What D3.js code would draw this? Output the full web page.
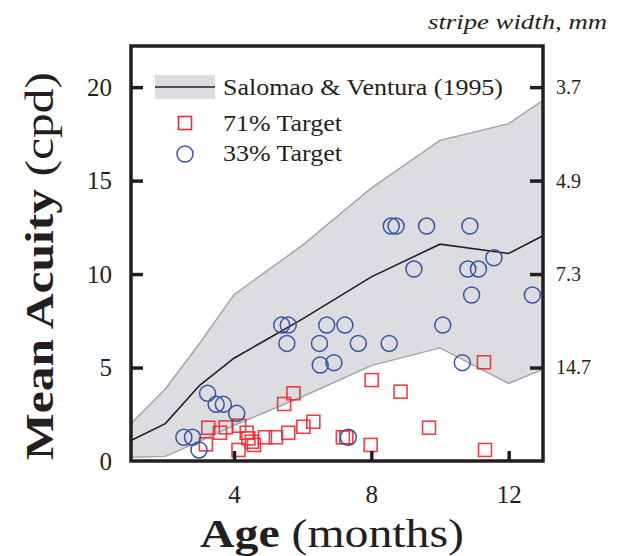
<!DOCTYPE html>
<html>
<head>
<meta charset="utf-8">
<script src="https://cdn.jsdelivr.net/npm/d3@7"></script>
<style>
  body { margin: 0; background: #fff; }
  svg text { font-family: "Liberation Serif", "DejaVu Serif", serif; fill: #231f20; }
</style>
</head>
<body>
<div class="chart"></div>
<script>
var svgWidth = 618;
var svgHeight = 556;

var margin = { top: 46, right: 75, bottom: 95, left: 131 };
var width = svgWidth - margin.left - margin.right;
var height = svgHeight - margin.top - margin.bottom;

var serif = "Liberation Serif";

// ---- data ----
var bandMonths = [1, 2, 3, 4, 6, 8, 10, 12, 13];
var bandLow  = [0.2, 0.25, 1.05, 1.9, 3.45, 5.1, 6.05, 4.15, 4.9];
var bandMean = [1.1, 2.0, 4.05, 5.5, 7.6, 9.85, 11.6, 11.1, 12.05];
var bandHigh = [2.0, 3.85, 6.3, 8.9, 11.55, 14.6, 17.15, 18.05, 19.3];

var age71 = [11.28, 8.01, 8.85, 5.73, 5.46, 6.31, 6.02, 5.58, 5.22, 4.90, 3.25, 3.59, 3.76,
  3.18, 4.15, 4.37, 4.42, 4.52, 4.58, 4.13, 7.17, 7.27, 7.98, 9.68, 11.31];
var acuity71 = [5.28, 4.33, 3.71, 3.62, 3.05, 2.10, 1.83, 1.51, 1.27, 1.27, 1.78, 1.51, 1.80,
  0.89, 1.89, 1.51, 1.21, 1.03, 0.86, 0.59, 1.27, 1.27, 0.86, 1.78, 0.59];

var age33 = [8.58, 8.72, 9.61, 10.87, 9.24, 10.81, 11.12, 11.57, 10.92, 12.69, 5.39, 5.58, 6.70,
  7.23, 10.08, 5.54, 6.49, 7.62, 8.52, 6.51, 6.91, 10.65, 3.23, 3.48, 3.69, 4.08, 2.54, 2.79, 2.98, 7.33];
var acuity33 = [12.57, 12.57, 12.57, 12.57, 10.27, 10.27, 10.27, 10.87, 8.88, 8.88, 7.27, 7.27, 7.27,
  7.27, 7.27, 6.29, 6.29, 6.29, 6.29, 5.13, 5.26, 5.26, 3.62, 3.03, 3.03, 2.55, 1.27, 1.27, 0.59, 1.27];

var ageTicks = [4, 8, 12];
var acuityTicks = [0, 5, 10, 15, 20];
var stripeTicks = [20, 15, 10, 5];
var stripeLabels = ["3.7", "4.9", "7.3", "14.7"];

var legendLabels = ["Salomao & Ventura (1995)", "71% Target", "33% Target"];

var ink = "#231f20";
var red = "#ec2a33";
var blue = "#3a54a5";

var svg = d3.select(".chart")
  .append("svg")
  .attr("width", svgWidth)
  .attr("height", svgHeight)
  .attr("font-family", serif);

var chartGroup = svg.append("g")
  .attr("transform", `translate(${margin.left}, ${margin.top})`);

var x = d3.scaleLinear().domain([1, 13]).range([0, width]);
var y = d3.scaleLinear().domain([0, 22.2]).range([height, 0]);

var band = bandMonths.map((m, i) => ({ m: m, lo: bandLow[i], mean: bandMean[i], hi: bandHigh[i] }));

// ---- shaded band ----
chartGroup.append("path")
  .datum(band)
  .attr("fill", "#dcdde0")
  .attr("d", d3.area().x(d => x(d.m)).y0(d => y(d.lo)).y1(d => y(d.hi)));

["lo", "hi"].forEach(k => {
  chartGroup.append("path")
    .datum(band)
    .attr("fill", "none")
    .attr("stroke", "#a3a3a5")
    .attr("stroke-width", 1.4)
    .attr("d", d3.line().x(d => x(d.m)).y(d => y(d[k])));
});

chartGroup.append("path")
  .datum(band)
  .attr("fill", "none")
  .attr("stroke", ink)
  .attr("stroke-width", 1.6)
  .attr("d", d3.line().x(d => x(d.m)).y(d => y(d.mean)));

// ---- points ----
var sq = 13;
chartGroup.append("g").selectAll("rect")
  .data(age71.map((a, i) => [a, acuity71[i]]))
  .enter()
  .append("rect")
  .attr("x", d => x(d[0]) - sq / 2)
  .attr("y", d => y(d[1]) - sq / 2)
  .attr("width", sq)
  .attr("height", sq)
  .attr("fill", "none")
  .attr("stroke", red)
  .attr("stroke-opacity", 0.9)
  .attr("stroke-width", 1.6);

chartGroup.append("g").selectAll("circle")
  .data(age33.map((a, i) => [a, acuity33[i]]))
  .enter()
  .append("circle")
  .attr("cx", d => x(d[0]))
  .attr("cy", d => y(d[1]))
  .attr("r", 8)
  .attr("fill", "none")
  .attr("stroke", blue)
  .attr("stroke-width", 1.5);

// ---- axes ----
function styleAxis(g, size) {
  g.attr("font-family", serif);
  g.select(".domain").remove();
  g.selectAll(".tick line").attr("stroke", ink).attr("stroke-width", 3.5);
  g.selectAll(".tick text").attr("font-size", size).attr("font-family", serif).attr("fill", ink);
}

var leftAxis = chartGroup.append("g")
  .call(d3.axisLeft(y).tickValues(acuityTicks).tickSize(-12).tickPadding(19));
styleAxis(leftAxis, 25);
leftAxis.selectAll(".tick line").filter(d => d === 0).remove();

var bottomAxis = chartGroup.append("g")
  .attr("transform", `translate(0, ${height})`)
  .call(d3.axisBottom(x).tickValues(ageTicks).tickSize(-10).tickPadding(24));
styleAxis(bottomAxis, 25);

var rightAxis = chartGroup.append("g")
  .attr("transform", `translate(${width}, 0)`)
  .call(d3.axisRight(y).tickValues(stripeTicks).tickSize(-13).tickPadding(13)
    .tickFormat((d, i) => stripeLabels[i]));
styleAxis(rightAxis, 20);

// frame
chartGroup.append("rect")
  .attr("width", width)
  .attr("height", height)
  .attr("fill", "none")
  .attr("stroke", ink)
  .attr("stroke-width", 3.5);

// ---- legend ----
var legend = chartGroup.append("g").attr("transform", "translate(24, 29)");
legend.append("rect")
  .attr("x", 0).attr("y", 0).attr("width", 60).attr("height", 24)
  .attr("fill", "#dcdde0");
legend.append("line")
  .attr("x1", 0).attr("x2", 60).attr("y1", 12).attr("y2", 12)
  .attr("stroke", ink).attr("stroke-width", 1.6);
legend.append("rect")
  .attr("x", 30 - sq / 2).attr("y", 48 - sq / 2).attr("width", sq).attr("height", sq)
  .attr("fill", "none").attr("stroke", red).attr("stroke-width", 1.6);
legend.append("circle")
  .attr("cx", 30).attr("cy", 79).attr("r", 8)
  .attr("fill", "none").attr("stroke", blue).attr("stroke-width", 1.5);

var legendWidths = [280, 119, 119];
var legendY = [20, 56, 86];
legendLabels.forEach((t, i) => {
  legend.append("text")
    .attr("x", 68)
    .attr("y", legendY[i])
    .attr("font-family", serif)
    .attr("font-size", 23)
    .attr("textLength", legendWidths[i])
    .attr("lengthAdjust", "spacingAndGlyphs")
    .text(t);
});

// ---- titles ----
var xTitle = svg.append("text")
  .attr("x", 200)
  .attr("y", 547)
  .attr("font-family", serif)
  .attr("font-size", 40)
  .attr("textLength", 264)
  .attr("lengthAdjust", "spacingAndGlyphs");
xTitle.append("tspan").attr("font-weight", "bold").text("Age");
xTitle.append("tspan").text(" (months)");

var yTitle = svg.append("text")
  .attr("transform", "translate(53, 460) rotate(-90)")
  .attr("x", 0)
  .attr("y", 0)
  .attr("font-family", serif)
  .attr("font-size", 40)
  .attr("textLength", 388)
  .attr("lengthAdjust", "spacingAndGlyphs");
yTitle.append("tspan").attr("font-weight", "bold").text("Mean Acuity");
yTitle.append("tspan").text(" (cpd)");

svg.append("text")
  .attr("x", 607)
  .attr("y", 29)
  .attr("text-anchor", "end")
  .attr("font-family", serif)
  .attr("font-size", 21)
  .attr("font-style", "italic")
  .attr("textLength", 179)
  .attr("lengthAdjust", "spacingAndGlyphs")
  .text("stripe width, mm");
</script>
</body>
</html>
